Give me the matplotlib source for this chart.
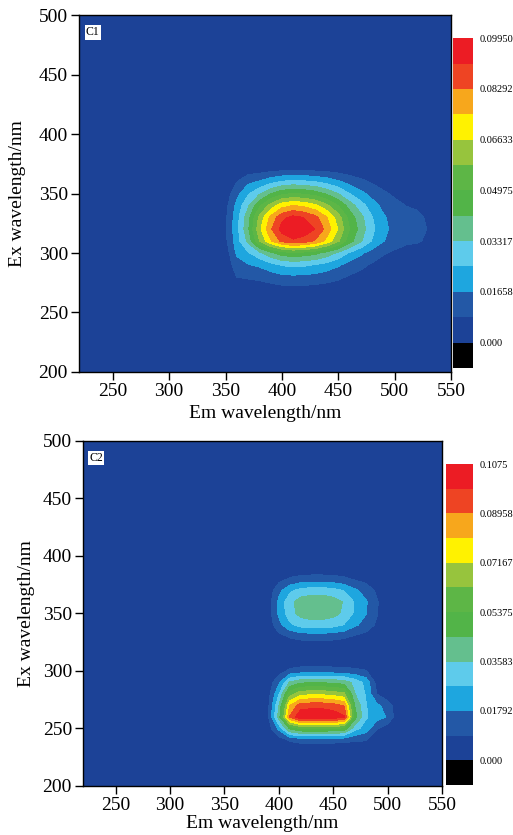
import numpy as np
import matplotlib
matplotlib.use('Agg')
import matplotlib.pyplot as plt
from matplotlib import rcParams
from matplotlib.colors import ListedColormap

rcParams['font.family'] = 'serif'
rcParams['font.serif'] = ['Liberation Serif', 'DejaVu Serif']
rcParams['font.size'] = 14
rcParams['axes.linewidth'] = 1.0

# fluorescence intensity, units of 1e-4, on a 10 nm grid around each peak
bg = 0.002   # everything outside the blocks

c1_em = [340, 350, 360, 370, 380, 390, 400, 410, 420, 430, 440, 450, 460, 470, 480, 490, 500, 510, 520, 530, 540]
c1_ex = [260, 270, 280, 290, 300, 310, 320, 330, 340, 350, 360, 370, 380]
c1_vals = [
    [0, 1, 1, 2, 6, 8, 9, 10, 10, 9, 8, 7, 5, 4, 3, 2, 1, 1, 1, 1, 0],
    [1, 4, 20, 30, 45, 49, 57, 60, 58, 54, 48, 39, 30, 23, 16, 11, 8, 7, 6, 5, 1],
    [3, 11, 85, 95, 100, 122, 142, 149, 145, 136, 119, 99, 75, 57, 40, 28, 21, 16, 15, 12, 3],
    [5, 19, 130, 160, 180, 220, 255, 269, 261, 244, 215, 177, 134, 102, 73, 51, 38, 29, 27, 22, 5],
    [10, 34, 180, 240, 306, 392, 454, 478, 463, 434, 382, 315, 239, 181, 129, 91, 67, 52, 48, 38, 10],
    [18, 63, 210, 350, 573, 734, 851, 896, 869, 815, 716, 591, 448, 340, 242, 170, 125, 98, 90, 72, 18],
    [20, 70, 220, 398, 637, 816, 945, 990, 965, 905, 796, 657, 498, 378, 269, 189, 139, 109, 100, 80, 20],
    [19, 66, 215, 380, 599, 767, 888, 935, 907, 851, 748, 618, 468, 355, 253, 178, 131, 102, 94, 75, 19],
    [15, 53, 190, 320, 478, 612, 709, 746, 724, 679, 597, 493, 374, 284, 202, 142, 104, 82, 75, 60, 15],
    [10, 35, 140, 235, 319, 408, 473, 498, 483, 453, 398, 329, 249, 189, 135, 95, 70, 55, 50, 40, 10],
    [5, 19, 80, 145, 172, 220, 255, 269, 261, 244, 215, 177, 134, 102, 73, 51, 38, 29, 27, 22, 5],
    [1, 5, 20, 40, 45, 57, 66, 70, 68, 63, 56, 46, 35, 26, 19, 13, 10, 8, 7, 6, 1],
    [0, 1, 2, 4, 6, 8, 9, 10, 10, 9, 8, 7, 5, 4, 3, 2, 1, 1, 1, 1, 0],
]

c2_em = [380, 390, 400, 410, 420, 430, 440, 450, 460, 470, 480, 490, 500, 510]
c2_ex = [220, 230, 240, 250, 260, 270, 280, 290, 300, 310, 320, 330, 340, 350, 360, 370, 380, 390]
c2_vals = [
    [0, 0, 1, 2, 2, 2, 2, 2, 2, 1, 1, 0, 0, 0],
    [0, 1, 8, 18, 21, 22, 22, 21, 20, 15, 10, 3, 1, 0],
    [2, 8, 44, 99, 116, 118, 118, 115, 110, 100, 95, 30, 5, 0],
    [11, 36, 203, 460, 540, 548, 548, 534, 510, 300, 230, 100, 40, 5],
    [22, 70, 398, 903, 1059, 1070, 1070, 1048, 1000, 484, 280, 220, 170, 20],
    [20, 62, 354, 804, 942, 952, 952, 933, 890, 440, 275, 200, 140, 15],
    [14, 46, 259, 587, 688, 699, 699, 681, 650, 360, 260, 90, 20, 5],
    [9, 29, 163, 370, 434, 441, 441, 430, 410, 330, 240, 60, 10, 2],
    [3, 8, 48, 108, 127, 129, 129, 126, 120, 110, 95, 20, 3, 0],
    [0, 1, 4, 9, 11, 11, 11, 10, 10, 9, 8, 2, 0, 0],
    [0, 2, 10, 17, 20, 21, 21, 20, 18, 13, 10, 5, 1, 0],
    [0, 12, 60, 99, 120, 126, 126, 120, 105, 78, 57, 30, 3, 0],
    [0, 30, 150, 248, 300, 315, 315, 300, 263, 195, 143, 75, 8, 0],
    [0, 39, 194, 320, 388, 407, 407, 388, 340, 252, 184, 97, 10, 0],
    [0, 40, 200, 330, 400, 420, 420, 400, 350, 260, 190, 100, 10, 0],
    [0, 30, 150, 248, 300, 315, 315, 300, 263, 195, 143, 75, 8, 0],
    [0, 12, 60, 99, 120, 126, 126, 120, 105, 78, 57, 30, 3, 0],
    [0, 2, 10, 17, 20, 21, 21, 20, 18, 13, 10, 5, 1, 0],
]

c1_max = 0.0995
c2_max = 0.1075
c1_ticklabels = ['0.000', '0.01658', '0.03317', '0.04975', '0.06633', '0.08292', '0.09950']
c2_ticklabels = ['0.000', '0.01792', '0.03583', '0.05375', '0.07167', '0.08958', '0.1075']

# 13 bands, black for below zero
band_colors = ['#000000', '#1c4297', '#2358a6', '#1ea6df', '#5ecbeb', '#64bf8e',
               '#52b448', '#5db646', '#97c43d', '#fff200', '#f7a71c', '#ee4423', '#ec1c24']
cmap = ListedColormap(band_colors)

em_full = np.arange(220, 551, 10)
ex_full = np.arange(200, 501, 10)


def fillGrid(em, ex, vals):
    z = np.full((len(ex_full), len(em_full)), bg)
    i0 = list(ex_full).index(ex[0])
    j0 = list(em_full).index(em[0])
    block = np.array(vals) / 1e4
    z[i0:i0 + len(ex), j0:j0 + len(em)] = block
    return np.maximum(z, bg)


def drawPanel(fig, axpos, cbpos, em, ex, vals, zmax, ticklabels, tag, ylabelpad, xlabelpad):
    ax = fig.add_axes(axpos)
    step = zmax / 12
    levels = -step + step * np.arange(14)
    z = fillGrid(em, ex, vals)
    cs = ax.contourf(em_full, ex_full, z, levels=levels, cmap=cmap)
    ax.set_xlim(220, 550)
    ax.set_ylim(200, 500)
    ax.set_xticks(np.arange(250, 551, 50))
    ax.set_yticks(np.arange(200, 501, 50))
    ax.tick_params(direction='out', length=6, width=1.0, pad=2, top=False, right=False)
    ax.set_xlabel('Em wavelength/nm', labelpad=xlabelpad)
    ax.set_ylabel('Ex wavelength/nm', labelpad=ylabelpad)
    ax.text(0.018, 0.968, tag, transform=ax.transAxes, ha='left', va='top', fontsize=8.5,
            bbox=dict(facecolor='white', edgecolor='none', pad=0.8))

    cax = fig.add_axes(cbpos)
    cb = fig.colorbar(cs, cax=cax, ticks=levels[1::2])
    cb.ax.set_yticklabels(ticklabels)
    cb.outline.set_visible(False)
    cb.ax.tick_params(length=0, labelsize=7.5, pad=5)
    return ax


fig = plt.figure(figsize=(5.13, 8.35), dpi=100)
drawPanel(fig, [0.154, 0.5545, 0.7251, 0.4275], [0.883, 0.5593, 0.039, 0.395],
          c1_em, c1_ex, c1_vals, c1_max, c1_ticklabels, 'C1', 9, 3.5)
drawPanel(fig, [0.1618, 0.0587, 0.6998, 0.4132], [0.869, 0.0599, 0.0526, 0.3844],
          c2_em, c2_ex, c2_vals, c2_max, c2_ticklabels, 'C2', 5.5, 1.0)

plt.savefig('out.png', dpi=100)
plt.close('all')
